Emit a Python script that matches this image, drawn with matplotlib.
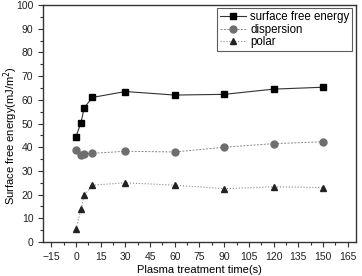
import matplotlib
matplotlib.use("Agg")
import matplotlib.pyplot as plt
from matplotlib.ticker import MultipleLocator

plt.rcParams.update({
    "font.family": ["Liberation Sans", "DejaVu Sans"], "font.size": 7.5,
    "axes.linewidth": 1.0, "axes.edgecolor": "#333333",
    "xtick.direction": "out", "ytick.direction": "out",
})

time_s = [0, 3, 5, 10, 30, 60, 90, 120, 150]
surface_free_energy = [44.5, 50.3, 56.7, 61.0, 63.5, 62.0, 62.3, 64.5, 65.3]
dispersion = [39.0, 36.8, 37.2, 37.4, 38.3, 38.0, 40.0, 41.5, 42.3]
polar = [5.5, 13.8, 19.8, 24.0, 25.0, 24.0, 22.5, 23.3, 23.0]

fig = plt.figure(figsize=(3.62, 2.76), dpi=100)
ax = fig.add_axes([0.119, 0.123, 0.864, 0.859])

ax.plot(time_s, surface_free_energy, "-", color="#333333", lw=0.8,
        marker="s", ms=4.3, mfc="black", mec="black", label="surface free energy")
ax.plot(time_s, dispersion, "--", color="#888888", lw=0.7, dashes=(2, 1.5),
        marker="o", ms=5, mfc="#6e6e6e", mec="#6e6e6e", label="dispersion")
ax.plot(time_s, polar, ":", color="#888888", lw=0.8,
        marker="^", ms=5, mfc="#222222", mec="#222222", label="polar")

ax.set_xlim(-20, 170)
ax.set_ylim(0, 100)
ax.xaxis.set_major_locator(MultipleLocator(15))
ax.xaxis.set_minor_locator(MultipleLocator(7.5))
ax.yaxis.set_major_locator(MultipleLocator(10))
ax.yaxis.set_minor_locator(MultipleLocator(5))
ax.tick_params(which="major", length=3.5, width=0.8, colors="#333333")
ax.tick_params(which="minor", length=2.5, width=0.8, colors="#333333")
ax.tick_params(labelcolor="#222222")
ax.set_xlabel("Plasma treatment time(s)", fontsize=8, labelpad=2)
ax.set_ylabel("Surface free energy(mJ/m$^2$)", fontsize=8)
ax.yaxis.set_label_coords(-0.073, 0.45)

leg = ax.legend(loc="upper right", fontsize=8.3, frameon=True, fancybox=False,
                edgecolor="#333333", borderpad=0.25, labelspacing=0.05,
                handlelength=2.25, handletextpad=0.35, borderaxespad=0.3)
leg.get_frame().set_linewidth(0.8)

fig.savefig("out.png", dpi=100)
